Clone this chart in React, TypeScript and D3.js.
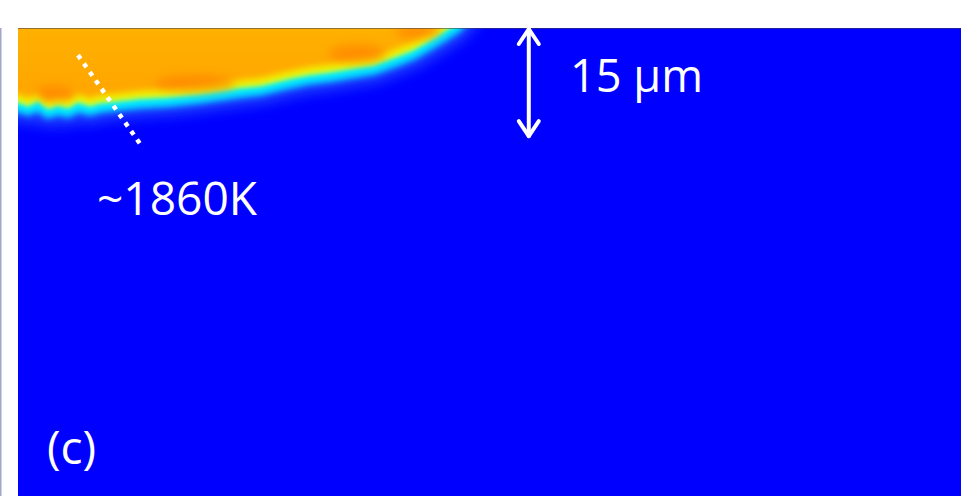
import React from "react";
import * as d3 from "d3";

// Melt-pool boundary (cyan isotherm), in µm: x along the surface, depth below the top
const boundaryX = [0, 1.4, 2.8, 4.2, 5.6, 7.0, 8.4, 10.1, 11.5, 14.3, 17.1, 20.9, 25.5, 31.1, 33.9, 38.1, 40.5, 43.7, 47.2, 49.7, 52.8, 55.3, 57.7, 59.8, 61.5];
const boundaryDepth = [11.1, 11.6, 10.9, 12.0, 11.5, 11.9, 11.1, 11.6, 11.2, 10.9, 10.6, 10.4, 9.9, 9.1, 8.8, 7.8, 7.3, 6.9, 6.3, 5.9, 4.8, 3.8, 2.4, 1.1, 0];

// Hotter spots inside the pool (µm)
const spotX = [5.0, 24.8, 47.5, 56.0];
const spotDepth = [9.2, 7.8, 3.6, 0.5];
const spotRx = [2.6, 5.6, 4.0, 3.2];
const spotRy = [1.1, 1.2, 1.3, 1.0];

// Annotations
const isothermLabel = "~1860K";
const isothermLine = [[8.4, 3.8], [17.5, 16.8]];
const scaleBarX = 71.5;
const scaleBarLength = 15;
const scaleBarLabel = "15 µm";
const panelLabel = "(c)";

const X_MAX = 132;
const Y_MAX = 65.5;

export default function App() {
  const x = d3.scaleLinear().domain([0, X_MAX]).range([18, 961]);
  const y = d3.scaleLinear().domain([0, Y_MAX]).range([28, 496]);

  const pts: [number, number][] = boundaryX.map((bx, i) => [x(bx), y(boundaryDepth[i])]);
  const last = pts[pts.length - 1];
  const poly: [number, number][] = [
    [x(-5), pts[0][1]],
    ...pts,
    [last[0] + 12, y(-2)],
    [last[0] + 12, y(-8)],
    [x(-5), y(-8)],
  ];
  const area = d3.line().curve(d3.curveLinear)(poly) as string;

  const ax = x(scaleBarX);
  const ay0 = y(0);
  const ay1 = y(scaleBarLength);

  const font = "'Open Sans', 'DejaVu Sans', sans-serif";

  return (
    <svg
      width={961}
      height={496}
      style={{ position: "absolute", left: 0, top: 0, display: "block" }}
    >
      <defs>
        <clipPath id="plotClip">
          <rect x={x(0)} y={y(0)} width={x(X_MAX) - x(0)} height={y(Y_MAX) - y(0)} />
        </clipPath>
        <filter id="b6" x="-20%" y="-20%" width="140%" height="140%">
          <feGaussianBlur stdDeviation={7} />
        </filter>
        <filter id="b3" x="-20%" y="-20%" width="140%" height="140%">
          <feGaussianBlur stdDeviation={3} />
        </filter>
        <filter id="b2" x="-20%" y="-20%" width="140%" height="140%">
          <feGaussianBlur stdDeviation={2.2} />
        </filter>
        <filter id="bs" x="-50%" y="-100%" width="200%" height="300%">
          <feGaussianBlur stdDeviation={5} />
        </filter>
        <linearGradient id="melt" x1="0" x2="0" y1={y(0)} y2={y(11)} gradientUnits="userSpaceOnUse">
          <stop offset="0" stopColor="#ffb200" />
          <stop offset="1" stopColor="#ffa600" />
        </linearGradient>
      </defs>

      <rect x={0} y={y(0)} width={1.5} height={y(Y_MAX) - y(0)} fill="#a4a4cc" />

      <g clipPath="url(#plotClip)">
        <rect x={x(0)} y={y(0)} width={x(X_MAX) - x(0)} height={y(Y_MAX) - y(0)} fill="#0000ff" />
        {/* faint lighter-blue halo */}
        <path d={area} fill="#2050ff" stroke="#2050ff" strokeWidth={26} strokeLinejoin="round" filter="url(#b6)" opacity={0.85} />
        {/* cyan band */}
        <path d={area} fill="#00e8ff" stroke="#00e8ff" strokeWidth={9} strokeLinejoin="round" filter="url(#b3)" />
        {/* green band */}
        <path d={area} transform="translate(0,-4)" fill="#90ff70" filter="url(#b2)" />
        {/* yellow band */}
        <path d={area} transform="translate(0,-7)" fill="#f0f000" filter="url(#b2)" />
        {/* orange melt */}
        <path d={area} transform="translate(0,-13)" fill="url(#melt)" filter="url(#b3)" />
        {/* hot spots */}
        {spotX.map((sx, i) => (
          <ellipse
            key={i}
            cx={x(sx)}
            cy={y(spotDepth[i])}
            rx={x(spotRx[i]) - x(0)}
            ry={y(spotRy[i]) - y(0)}
            fill="#ff7c00"
            opacity={0.6}
            filter="url(#bs)"
          />
        ))}
      </g>

      <line x1={x(0)} x2={961} y1={y(0) + 0.5} y2={y(0) + 0.5} stroke="#3c3c50" strokeOpacity={0.55} strokeWidth={1} />

      {/* isotherm dotted line */}
      <line
        x1={x(isothermLine[0][0])}
        y1={y(isothermLine[0][1])}
        x2={x(isothermLine[1][0])}
        y2={y(isothermLine[1][1])}
        stroke="#ffffff"
        strokeWidth={4.5}
        strokeDasharray="4.5 5.8"
      />
      <text x={97} y={215} fill="#fff" fontFamily={font} fontSize={46} fontWeight={500} textLength={160} lengthAdjust="spacingAndGlyphs">
        {isothermLabel}
      </text>

      {/* scale bar */}
      <g stroke="#fff" strokeWidth={4} fill="none" strokeLinecap="round" strokeLinejoin="round">
        <line x1={ax} x2={ax} y1={ay0 + 1} y2={ay1 + 1} />
        <polyline points={`${ax - 10},${ay0 + 16} ${ax},${ay0 + 1} ${ax + 10},${ay0 + 16}`} />
        <polyline points={`${ax - 10},${ay1 - 14} ${ax},${ay1 + 1} ${ax + 10},${ay1 - 14}`} />
      </g>
      <text x={570} y={92} fill="#fff" fontFamily={font} fontSize={46} fontWeight={500} textLength={133} lengthAdjust="spacingAndGlyphs">
        {scaleBarLabel}
      </text>

      <text x={47} y={464} fill="#fff" fontFamily={font} fontSize={46} fontWeight={500}>
        {panelLabel}
      </text>
    </svg>
  );
}
